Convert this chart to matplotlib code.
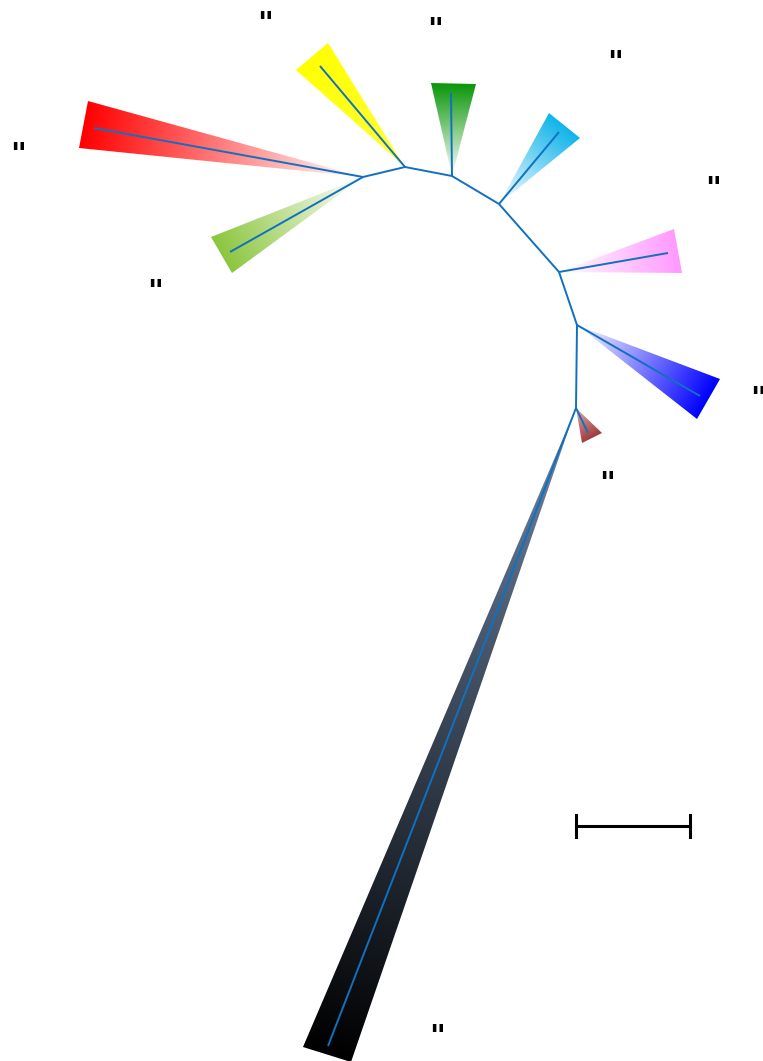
import numpy as np
import matplotlib
matplotlib.use("Agg")
import matplotlib.pyplot as plt
from matplotlib.patches import Polygon
from matplotlib.colors import to_rgb

# backbone nodes of the unrooted tree (layout units)
node_x = [363, 405, 452, 499, 559, 577, 576]
node_y = [177, 167, 176, 204, 272, 325, 408]

# collapsed clades: attached node, base corners, representative tip
clade_node = [0, 0, 1, 2, 3, 4, 5, 6, 6]
clade_c1 = [(88, 101), (211, 237), (296, 70), (431, 83), (549, 113), (674, 229), (720, 379), (602, 433), (303, 1047)]
clade_c2 = [(79, 148), (232, 273), (328, 43), (476, 84), (580, 138), (682, 273), (697, 419), (582, 443), (351, 1062)]
clade_tip = [(94, 128), (230, 252), (320, 66), (451, 93), (559, 132), (668, 253), (700, 396), (588, 433), (328, 1046)]
clade_col_in = ["#ffffff", "#ffffff", "#ffff40", "#ffffff", "#ffffff", "#ffffff", "#ffffff", "#e0b0b0", "#7088a8"]
clade_col_out = ["#ff0000", "#8cc63f", "#ffff00", "#0a960a", "#10b4ea", "#ff99ff", "#0000ff", "#a03c3c", "#000000"]

# leaf labels
label_x = [18, 155, 265, 435, 615, 713, 758, 607, 437]
label_y = [148, 285, 17, 23, 56, 182, 392, 477, 1030]
label_txt = ['"'] * 9

# scale bar
scale_x = [576, 690]
scale_y = 826

W, H = 763, 1061
fig = plt.figure(figsize=(W / 100, H / 100), dpi=100)
ax = fig.add_axes([0, 0, 1, 1])
ax.set_xlim(0, W)
ax.set_ylim(H, 0)
ax.axis("off")

branch_col = "#1170c0"

for k in range(len(clade_node)):
    apex = np.array([node_x[clade_node[k]], node_y[clade_node[k]]], float)
    c1 = np.array(clade_c1[k], float)
    c2 = np.array(clade_c2[k], float)
    poly = np.array([apex, c1, c2])
    base = (c1 + c2) / 2
    u = base - apex
    L = np.hypot(*u)
    u /= L
    xmin, ymin = poly.min(axis=0) - 2
    xmax, ymax = poly.max(axis=0) + 2
    xs = np.linspace(xmin, xmax, 200)
    ys = np.linspace(ymin, ymax, 200)
    gx, gy = np.meshgrid(xs, ys)
    t = ((gx - apex[0]) * u[0] + (gy - apex[1]) * u[1]) / L
    t = np.clip(t, 0, 1)[..., None]
    ci = np.array(to_rgb(clade_col_in[k]))
    co = np.array(to_rgb(clade_col_out[k]))
    img = ci * (1 - t) + co * t
    im = ax.imshow(img, extent=(xmin, xmax, ymin, ymax), origin="lower",
                   aspect="auto", interpolation="bilinear", zorder=1)
    patch = Polygon(poly, closed=True, facecolor="none", edgecolor="none")
    ax.add_patch(patch)
    im.set_clip_path(patch)
    ax.plot([apex[0], clade_tip[k][0]], [apex[1], clade_tip[k][1]],
            color=branch_col, lw=1.4, zorder=3, solid_capstyle="butt")

ax.plot(node_x, node_y, color=branch_col, lw=1.4, zorder=3)

# the quote glyph sits high in its text box, so nudge it down
fs = 22
nudge = 0.25 * fs * 100 / 72
for x, y, s in zip(label_x, label_y, label_txt):
    ax.text(x, y + nudge, s, fontsize=fs, fontweight="bold", ha="center",
            va="center", color="black", zorder=4)

ax.plot(scale_x, [scale_y, scale_y], color="black", lw=2.2)
for x in scale_x:
    ax.plot([x, x], [scale_y - 11, scale_y + 11], color="black", lw=2.2)

fig.savefig("out.png", dpi=100)
